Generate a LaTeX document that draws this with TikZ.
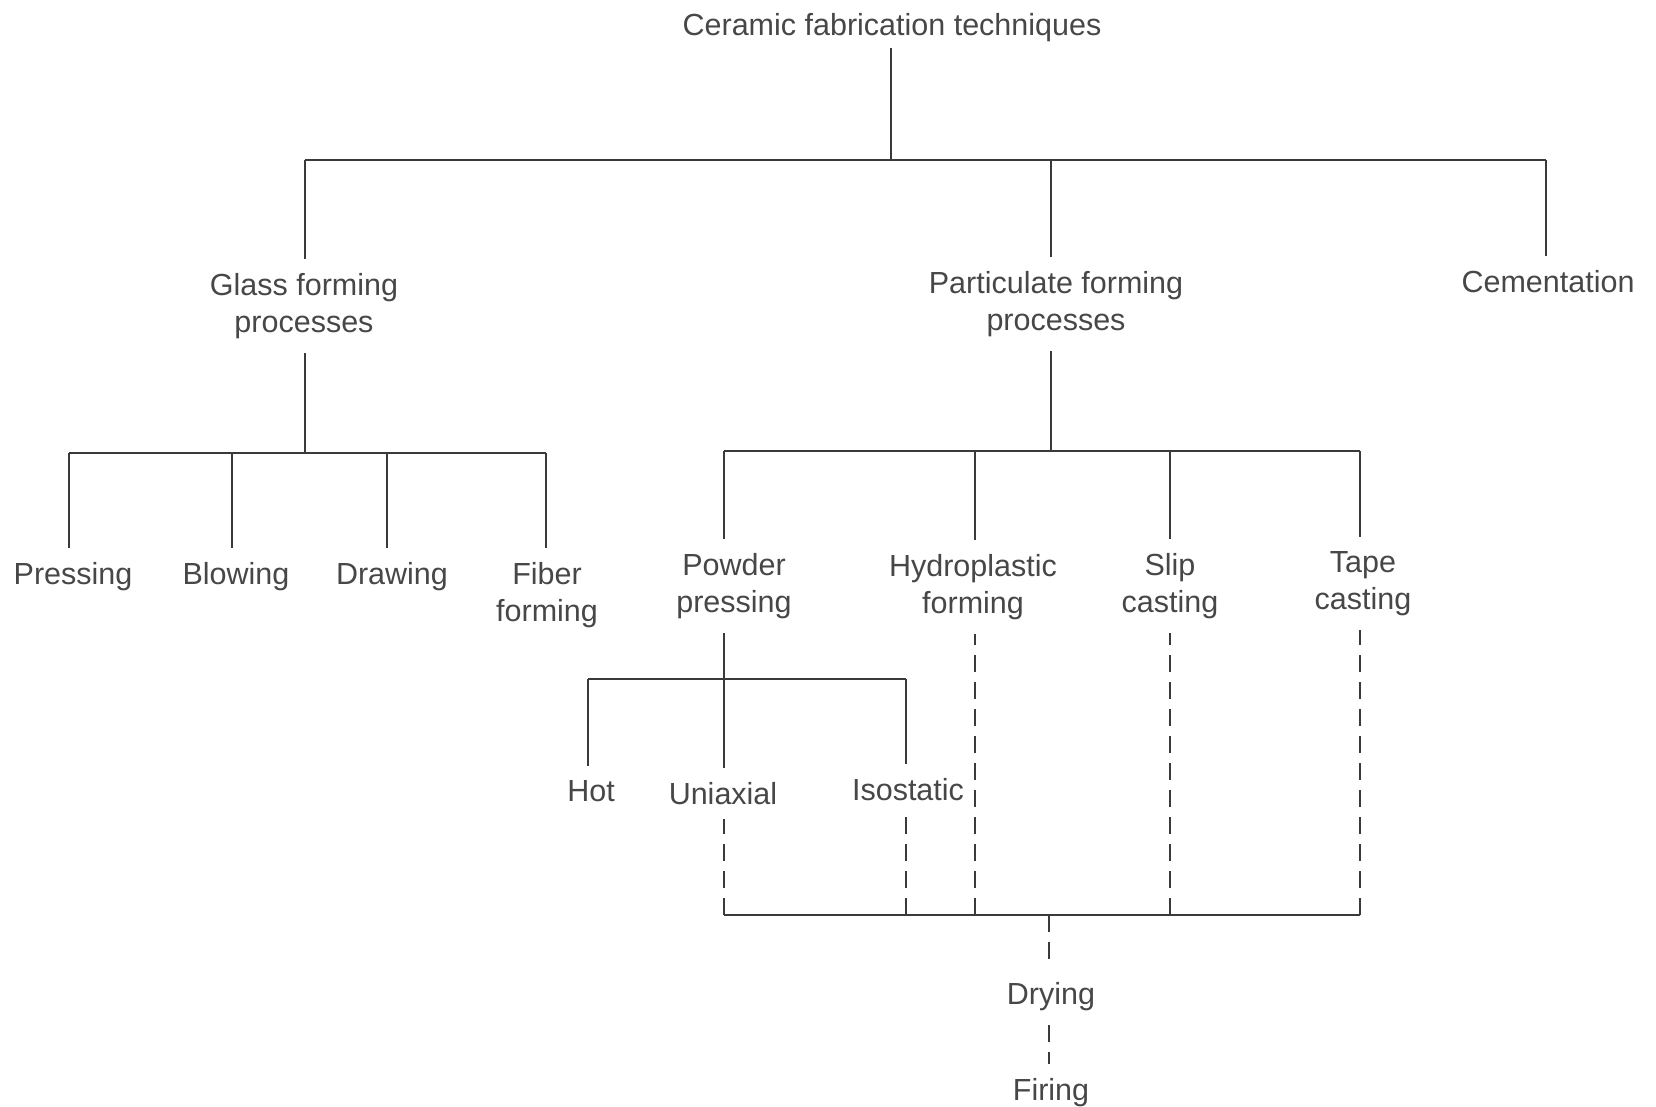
\documentclass[tikz,border=0pt]{standalone}
\usepackage{fontspec}
\setmainfont{Liberation Sans}
\definecolor{ink}{HTML}{3A3A3A}
\definecolor{txt}{HTML}{474747}
\begin{document}
\begin{tikzpicture}[x=1pt,y=-1pt,
  lbl/.style={font=\fontsize{30.5}{37.5}\selectfont, text=txt, align=center,
              anchor=north, inner xsep=2pt, inner ysep=14pt},
  wire/.style={draw=ink, line width=2.2pt},
  dwire/.style={wire, dash pattern=on 17pt off 10pt}]

\useasboundingbox (0,0) rectangle (1656,1107);

% labels
\node[lbl, inner ysep=6pt] (root) at (892,7) {Ceramic fabrication techniques};
\node[lbl] (glass)  at (304,259)  {Glass forming\\processes};
\node[lbl] (part)   at (1056,257) {Particulate forming\\processes};
\node[lbl] (cem)    at (1548,256) {Cementation};
\node[lbl] (press)  at (73,548)   {Pressing};
\node[lbl] (blow)   at (236,548)  {Blowing};
\node[lbl] (drawn)  at (392,548)  {Drawing};
\node[lbl] (fiber)  at (547,548)  {Fiber\\forming};
\node[lbl] (powder) at (734,539)  {Powder\\pressing};
\node[lbl] (hydro)  at (973,540)  {Hydroplastic\\forming};
\node[lbl] (slip)   at (1170,539) {Slip\\casting};
\node[lbl] (tape)   at (1363,537) {Tape\\casting};
\node[lbl] (hot)    at (591,766)  {Hot};
\node[lbl] (uni)    at (723,768)  {Uniaxial};
\node[lbl] (iso)    at (908,764)  {Isostatic};
\node[lbl] (dry)    at (1051,968) {Drying};
\node[lbl] (fire)   at (1051,1064){Firing};

% junction points
\coordinate (jroot) at (891,160);
\coordinate (jgl)   at (305,160);
\coordinate (jpa)   at (1051,160);
\coordinate (jce)   at (1546,160);

\coordinate (gbar) at (305,453);
\coordinate (gL)   at (69,453);
\coordinate (gB)   at (232,453);
\coordinate (gD)   at (387,453);
\coordinate (gR)   at (546,453);

\coordinate (pbar) at (1051,451);
\coordinate (pL)   at (724,451);
\coordinate (pH)   at (975,451);
\coordinate (pS)   at (1170,451);
\coordinate (pR)   at (1360,451);

\coordinate (kbar) at (724,679);
\coordinate (kL)   at (588,679);
\coordinate (kR)   at (906,679);

\coordinate (bL) at (724,915);
\coordinate (bR) at (1360,915);
\coordinate (bM) at (1049,915);

% first level
\draw[wire] (jroot |- root.south) -- (jroot);
\draw[wire] (jgl) -- (jce);
\draw[wire] (jgl) -- (jgl |- glass.north);
\draw[wire] (jpa) -- (jpa |- part.north);
\draw[wire] (jce) -- (jce |- cem.north);

% glass forming branch
\draw[wire] (gbar |- glass.south) -- (gbar);
\draw[wire] (gL) -- (gR);
\draw[wire] (gL) -- (gL |- press.north);
\draw[wire] (gB) -- (gB |- blow.north);
\draw[wire] (gD) -- (gD |- drawn.north);
\draw[wire] (gR) -- (gR |- fiber.north);

% particulate forming branch
\draw[wire] (pbar |- part.south) -- (pbar);
\draw[wire] (pL) -- (pR);
\draw[wire] (pL) -- (pL |- powder.north);
\draw[wire] (pH) -- (pH |- hydro.north);
\draw[wire] (pS) -- (pS |- slip.north);
\draw[wire] (pR) -- (pR |- tape.north);

% powder pressing variants
\draw[wire] (kbar |- powder.south) -- (kbar |- uni.north);
\draw[wire] (kL) -- (kR);
\draw[wire] (kL) -- (kL |- hot.north);
\draw[wire] (kR) -- (kR |- iso.north);

% dashed routes to the common drying / firing steps
\draw[dwire] (bL) -- (bL |- uni.south);
\draw[dwire] (kR |- bL) -- (kR |- iso.south);
\draw[dwire] (pH |- bL) -- (pH |- hydro.south);
\draw[dwire] (pS |- bL) -- (pS |- slip.south);
\draw[dwire] (bR) -- (bR |- tape.south);
\draw[wire] (bL) -- (bR);
\draw[dwire] (bM) -- (bM |- dry.north);
\draw[dwire] (bM |- dry.south) -- (bM |- fire.north);
\end{tikzpicture}
\end{document}
